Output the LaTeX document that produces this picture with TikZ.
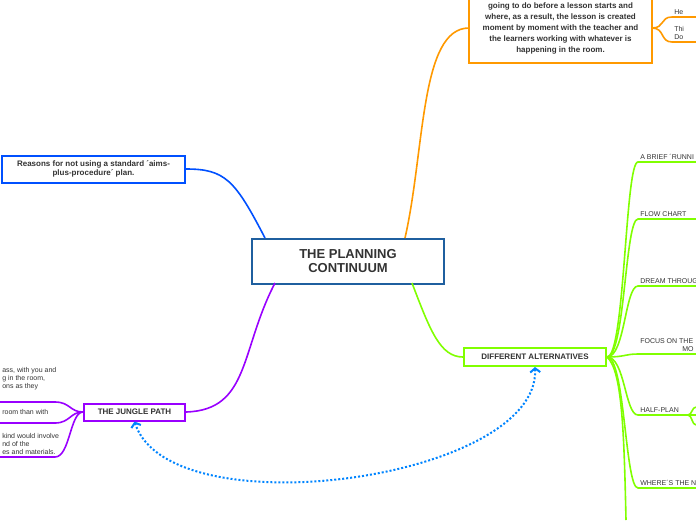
\documentclass[tikz,border=0pt]{standalone}
\usepackage{fontspec}
\setmainfont{Liberation Sans}
\usetikzlibrary{arrows.meta}
\definecolor{mapblue}{HTML}{1F5F9F}
\definecolor{brblue}{HTML}{0050FF}
\definecolor{brorange}{HTML}{FF9900}
\definecolor{brgreen}{HTML}{80FF00}
\definecolor{brpurple}{HTML}{9900FF}
\definecolor{txt}{HTML}{333333}
\tikzset{ topic/.style = { rectangle % main box
        , draw
        , fill = white
        , line width = 2pt
        , align = center
        , text = txt
        , font = \bfseries
        }
        , leaf/.style = { anchor = south west % underlined label
        , inner sep = 1.5pt
        , text = txt
        , font = \fontsize{7}{8}\selectfont
        , align = left
        }
        }
\begin{document}
\begin{tikzpicture}[x=1pt, y=-1pt, line width=1.6pt,
        link/.style={draw, line width=1.6pt},
        relation/.style={draw=brblue!70!cyan, line width=2pt, dotted, {Straight Barb[length=4pt,width=10pt,line width=2pt]}-{Straight Barb[length=4pt,width=10pt,line width=2pt]}}]
        \useasboundingbox (0,0) rectangle (696,520);

        \node [topic, draw=mapblue, minimum width=192pt, minimum height=45pt, font=\bfseries\fontsize{13}{14}\selectfont](root) at (348,261) {THE PLANNING\\CONTINUUM};
        \node [topic, draw=brblue, minimum width=183pt, minimum height=27pt, font=\bfseries\fontsize{8}{9.5}\selectfont](reasons) at (93.5,169) {Reasons for not using a standard ´aims-\\plus-procedure´ plan.};
        \node [topic, draw=brorange, minimum width=183pt, minimum height=80pt, inner sep=3pt, font=\bfseries\fontsize{8}{11}\selectfont, anchor=south](jungle_def) at (560.5,64) {teacher has no real idea what he/she is\\going to do before a lesson starts and\\where, as a result, the lesson is created\\moment by moment with the teacher and\\the learners working with whatever is\\happening in the room.};
        \node [topic, draw=brgreen, minimum width=142pt, minimum height=18pt, font=\bfseries\fontsize{8}{9}\selectfont](alternatives) at (535,357) {DIFFERENT ALTERNATIVES};
        \node [topic, draw=brpurple, minimum width=101pt, minimum height=17pt, font=\bfseries\fontsize{8}{9}\selectfont](jungle) at (134.5,412) {THE JUNGLE PATH};

        % main branches
        \draw [link, brblue] (265,238) .. controls (235,180) and (225,169) .. (reasons.east);
        \draw [link, brorange] (405,238) .. controls (425,150) and (420,28) .. (469,28);
        \draw [link, brgreen] (412,283) .. controls (430,330) and (440,357) .. (alternatives.west);
        \draw [link, brpurple] (275,283) .. controls (240,350) and (250,410) .. (jungle.east);

        % orange sub-branches
        \coordinate (o1) at (696,17);
        \coordinate (o2) at (696,42);
        \node [leaf] (he) at (672,17) {He};
        \node [leaf] (thi) at (672,42) {Thi\\Do};
        \draw [link, brorange] (652,28) .. controls (665,28) and (660,17) .. (672,17) -- (o1);
        \draw [link, brorange] (652,28) .. controls (665,28) and (660,42) .. (672,42) -- (o2);

        % jungle sub-branches
        \node [leaf] (j1) at (0,392) {ass, with you and\\g in the room,\\ons as they};
        \node [leaf] (j2) at (0,417) {room than with};
        \node [leaf] (j3) at (0,457) {kind would involve\\nd of the\\es and materials.};
        \coordinate (ju1) at (0,402);
        \coordinate (ju2) at (0,423);
        \coordinate (ju3) at (0,457);
        \draw [link, brpurple] (jungle.west) .. controls (70,412) and (70,402) .. (55,402) -- (ju1);
        \draw [link, brpurple] (jungle.west) .. controls (70,412) and (70,423) .. (55,423) -- (ju2);
        \draw [link, brpurple] (jungle.west) .. controls (70,412) and (70,457) .. (55,457) -- (ju3);

        % alternatives
        \foreach \name/\y/\label in {a1/162/{A BRIEF ´RUNNI}, a2/219/{FLOW CHART}, a3/286/{DREAM THROUG}, a4/354/{FOCUS ON THE\\\hspace*{42pt}MO}, a5/415/{HALF-PLAN}, a6/488/{WHERE´S THE N}}{
            \node [leaf] (\name) at (638,\y) {\label};
            \coordinate (\name e) at (696,\y);
            \draw [link, brgreen] (alternatives.east) .. controls (625,357) and (625,\y) .. (638,\y) -- (\name e);
        }
        \coordinate (a7) at (626,520);
        \draw [link, brgreen] (alternatives.east) .. controls (622,370) and (624,430) .. (a7);
        \coordinate (h1) at (696,407);
        \coordinate (h2) at (696,425);
        \draw [link, brgreen] (688,415) .. controls (692,415) and (692,407) .. (h1);
        \draw [link, brgreen] (688,415) .. controls (692,415) and (692,425) .. (h2);

        % relation
        \draw [relation] (alternatives.south) .. controls (540,480) and (170,530) .. (jungle.south);
\end{tikzpicture}
\end{document}
